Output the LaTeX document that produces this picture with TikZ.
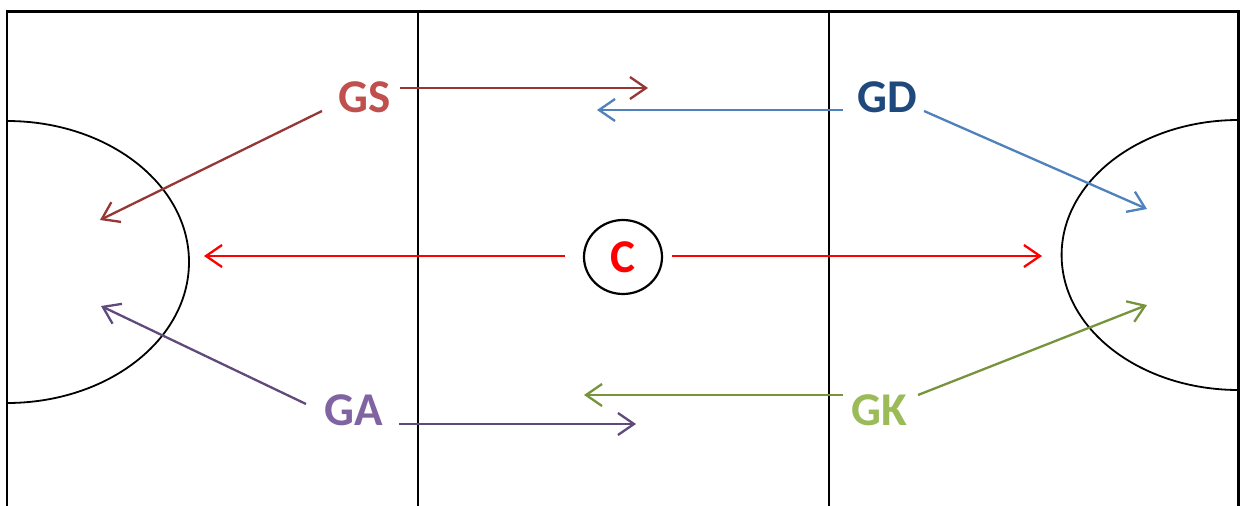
\documentclass[tikz,border=0pt]{standalone}
\usepackage{fontspec}
\setmainfont{Carlito}
\usetikzlibrary{arrows.meta,shapes.geometric}
\definecolor{gsText}{HTML}{C0504D}
\definecolor{gsLine}{RGB}{150,55,53}
\definecolor{gdText}{HTML}{1F497D}
\definecolor{gdLine}{HTML}{4F81BD}
\definecolor{gaText}{HTML}{8064A2}
\definecolor{gaLine}{RGB}{96,74,123}
\definecolor{gkText}{HTML}{9BBB59}
\definecolor{gkLine}{HTML}{77933C}
\tikzset{
  court/.style={line width=2.2pt, black},
  plabel/.style={font=\fontsize{47}{52}\selectfont\bfseries, inner sep=0pt},
  mv/.style={line width=2.3pt, -{Straight Barb[length=16pt,width=22pt,line width=2.3pt]}},
}
\begin{document}
\begin{tikzpicture}[x=1pt,y=-1pt]
\useasboundingbox (0,0) rectangle (1240,506);
\fill[white] (0,0) rectangle (1240,506);
% court
\draw[court, line width=2.8pt] (7,506) -- (7,11.5) -- (1238.6,11.5) -- (1238.6,506);
\draw[court] (418,11.5) -- (418,506);
\draw[court] (829,11.5) -- (829,506);
\begin{scope}
\clip (7,0) rectangle (1238.6,506);
\draw[line width=1.8pt] (7,262) ellipse [x radius=182pt, y radius=141pt];
\draw[line width=1.8pt] (1238.6,255) ellipse [x radius=177pt, y radius=135pt];
\end{scope}
% labels
\node[plabel, text=gsText] (GS) at (365,97) {GS};
\node[plabel, text=gdText] (GD) at (887,97) {GD};
\node[plabel, text=gaText] (GA) at (354,410) {GA};
\node[plabel, text=gkText] (GK) at (879,410) {GK};
\node[draw, line width=2.2pt, ellipse, minimum width=78pt, minimum height=74pt, inner sep=0pt, text=red, font=\fontsize{47}{52}\selectfont\bfseries] (C) at (623,257) {C};
% coordinates
\coordinate (gs1s) at (400,88);   \coordinate (gs1e) at (648,88);
\coordinate (gs2s) at (322,111);  \coordinate (gs2e) at (100,220);
\coordinate (gd1s) at (843,110);  \coordinate (gd1e) at (597,110);
\coordinate (gd2s) at (924,111);  \coordinate (gd2e) at (1147,209);
\coordinate (c1s) at (565,256);   \coordinate (c1e) at (204,256);
\coordinate (c2s) at (672,256);   \coordinate (c2e) at (1042,256);
\coordinate (ga1s) at (306,404);  \coordinate (ga1e) at (101,306);
\coordinate (ga2s) at (399,424);  \coordinate (ga2e) at (636,424);
\coordinate (gk1s) at (843,395);  \coordinate (gk1e) at (584,395);
\coordinate (gk2s) at (918,395);  \coordinate (gk2e) at (1147,305);
% arrows
\draw[mv, gsLine] (gs1s) -- (gs1e);
\draw[mv, gsLine] (gs2s) -- (gs2e);
\draw[mv, gdLine] (gd1s) -- (gd1e);
\draw[mv, gdLine] (gd2s) -- (gd2e);
\draw[mv, red] (c1s) -- (c1e);
\draw[mv, red] (c2s) -- (c2e);
\draw[mv, gaLine] (ga1s) -- (ga1e);
\draw[mv, gaLine] (ga2s) -- (ga2e);
\draw[mv, gkLine] (gk1s) -- (gk1e);
\draw[mv, gkLine] (gk2s) -- (gk2e);
\end{tikzpicture}
\end{document}
